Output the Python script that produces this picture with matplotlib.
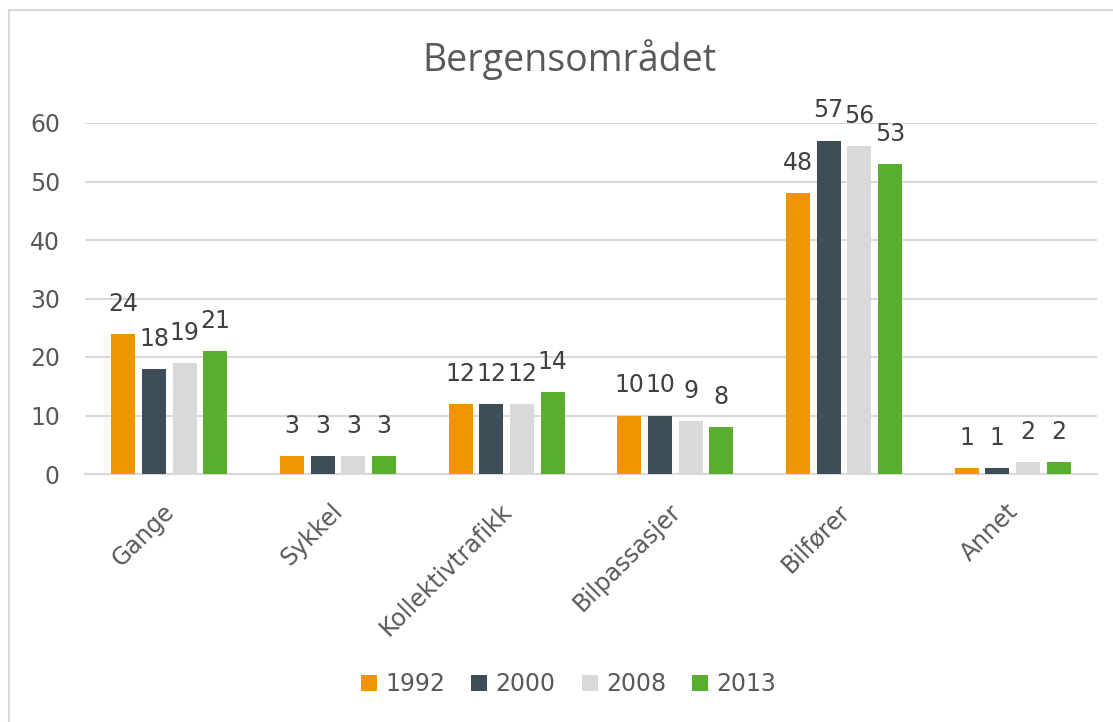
import matplotlib
matplotlib.use("Agg")
import matplotlib.pyplot as plt
import matplotlib.transforms as mtransforms
import numpy as np
from matplotlib.patches import Rectangle

categories = ["Gange", "Sykkel", "Kollektivtrafikk", "Bilpassasjer", "Bilfører", "Annet"]
years = ["1992", "2000", "2008", "2013"]
v1992 = [24, 3, 12, 10, 48, 1]
v2000 = [18, 3, 12, 10, 57, 1]
v2008 = [19, 3, 12, 9, 56, 2]
v2013 = [21, 3, 14, 8, 53, 2]
series = [v1992, v2000, v2008, v2013]
colors = ["#F09400", "#3E4E58", "#D9D9D9", "#5AAE2E"]
txt = "#595959"
plt.rcParams["font.family"] = ["DejaVu Sans"]

fig = plt.figure(figsize=(11.13, 7.22), dpi=100)
ax = fig.add_axes([85 / 1113, 1 - 474 / 722, 1012 / 1113, 351 / 722])

# chart border
fig.patches.append(Rectangle((9 / 1113, -0.1), 1.2, (722 - 10) / 722 + 0.1,
                             transform=fig.transFigure, fill=False,
                             edgecolor="#D9D9D9", lw=1.5))

x = np.arange(len(categories))
w = 0.142
step = 0.182
for i, (vals, c, yr) in enumerate(zip(series, colors, years)):
    pos = x + (i - 1.5) * step
    bars = ax.bar(pos, vals, width=w, color=c, label=yr, zorder=3)
    for b, v in zip(bars, vals):
        ax.annotate(str(v), (b.get_x() + b.get_width() / 2, v),
                    xytext=(0, 13), textcoords="offset points", ha="center",
                    va="bottom", fontsize=17, color="#404040",
                    annotation_clip=False)

ax.set_xlim(-0.5, len(categories) - 0.5)
ax.set_ylim(0, 60)
ax.set_yticks(range(0, 61, 10))
ax.yaxis.grid(True, color="#D9D9D9", lw=1.5, zorder=0)
for s in ["top", "right", "left"]:
    ax.spines[s].set_visible(False)
ax.spines["bottom"].set_color("#D9D9D9")
ax.spines["bottom"].set_linewidth(1.5)
ax.tick_params(axis="y", length=0, pad=18, labelsize=17, labelcolor=txt)
ax.tick_params(axis="x", length=0, pad=18)
ax.set_xticks(x)
ax.set_xticklabels(categories, rotation=45, ha="right", rotation_mode="anchor",
                   fontsize=17, color=txt)
shift = mtransforms.ScaledTranslation(-7 / 100, 0, fig.dpi_scale_trans)
for lab in ax.get_xticklabels():
    lab.set_transform(lab.get_transform() + shift)

fig.text(0.512, 0.918, "Bergensområdet", ha="center", va="center",
         fontsize=27, color=txt, family="Open Sans")

leg = fig.legend(loc="center", bbox_to_anchor=(0.511, 0.052), ncol=4,
                 frameon=False, fontsize=17, handlelength=0.68, handleheight=0.68,
                 handletextpad=0.35, columnspacing=1.1, labelcolor=txt)

fig.savefig("out.png", dpi=100)
